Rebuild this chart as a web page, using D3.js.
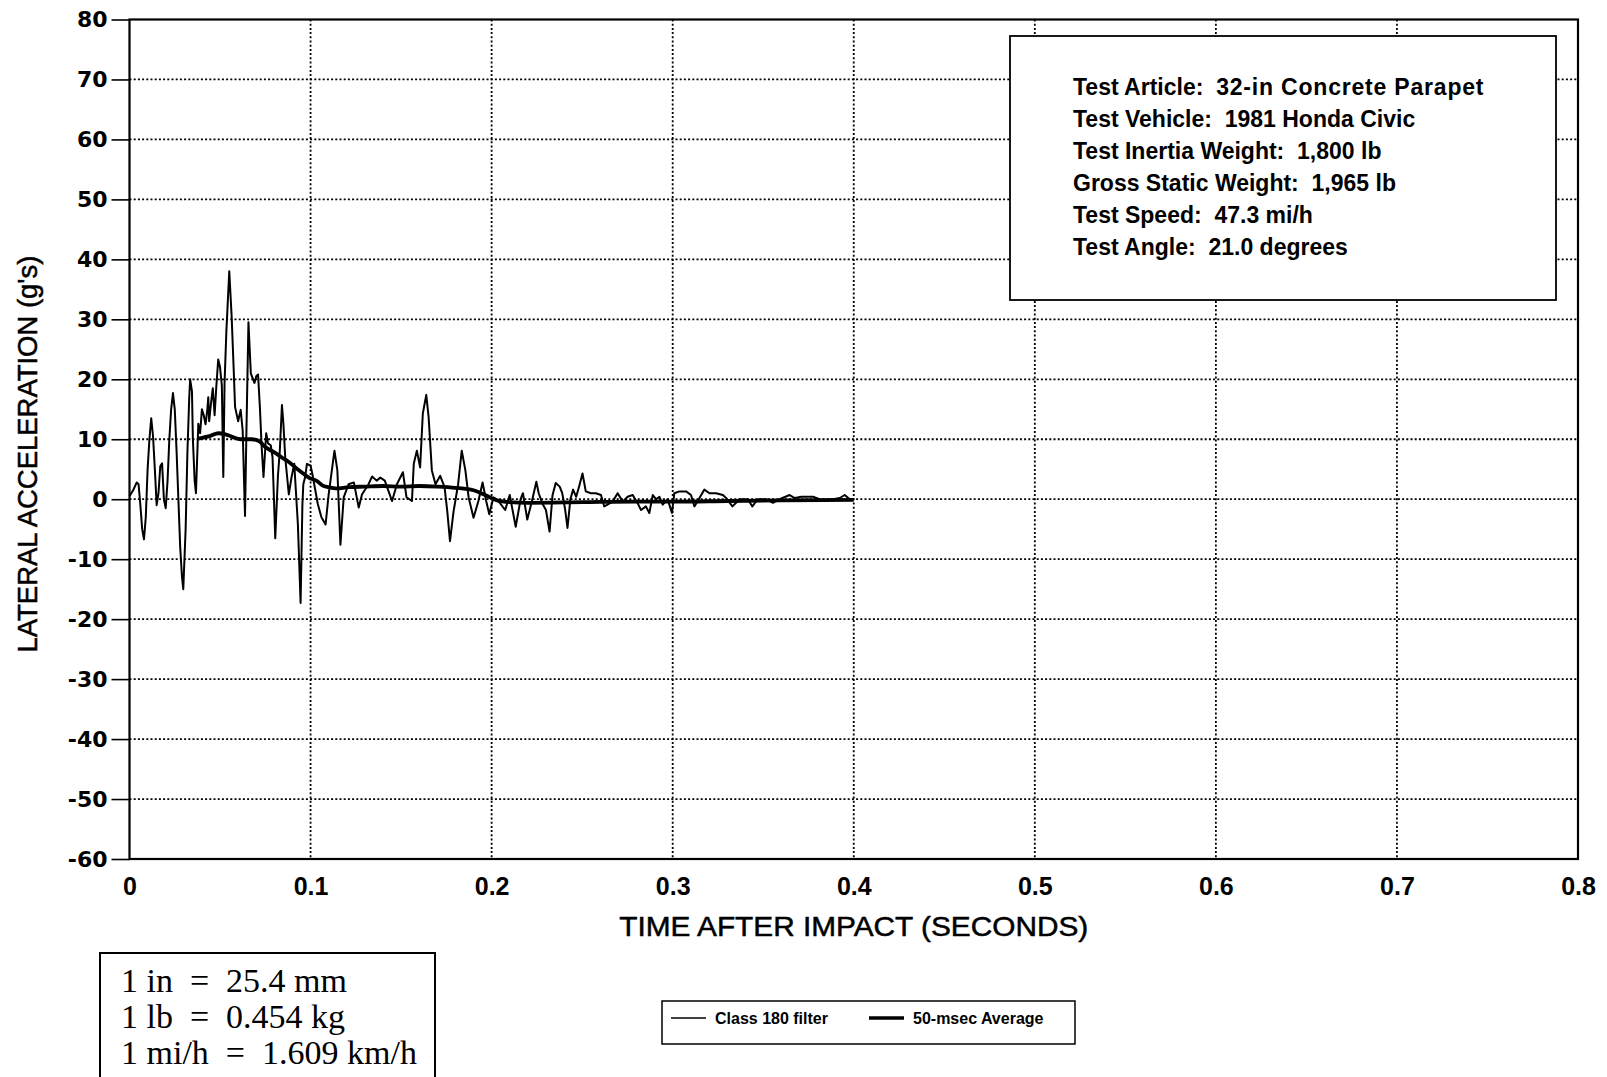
<!DOCTYPE html>
<html>
<head>
    <title>Lateral Acceleration</title>
    <script src="https://d3js.org/d3.v7.min.js"></script>
    <style>
        body { margin: 0; background: #fff; }
        svg { display: block; }
        .axis-label {
            font-family: "Liberation Sans", Arial, sans-serif;
            font-size: 28px;
            fill: #000;
            stroke: #000;
            stroke-width: 0.5px;
        }
        .info text {
            font-family: "Liberation Sans", Arial, sans-serif;
            font-weight: bold;
            font-size: 23px;
        }
    </style>
</head>
<body>
    <svg width="1607" height="1077"></svg>
    <script>
        // tick values
        const xTicks = [0, 0.1, 0.2, 0.3, 0.4, 0.5, 0.6, 0.7, 0.8];
        const yTicks = [-60, -50, -40, -30, -20, -10, 0, 10, 20, 30, 40, 50, 60, 70, 80];

        // Class 180 filter trace
        const timeRaw = [
            0.000, 0.002, 0.004, 0.005, 0.006, 0.007, 0.008, 0.009, 0.010, 0.011,
            0.012, 0.013, 0.014, 0.015, 0.016, 0.017, 0.018, 0.019, 0.020, 0.021,
            0.022, 0.023, 0.024, 0.025, 0.026, 0.027, 0.028, 0.029, 0.0297, 0.031,
            0.032, 0.033, 0.0335, 0.0345, 0.035, 0.036, 0.0367, 0.0375, 0.038, 0.039,
            0.040, 0.041, 0.042, 0.043, 0.0435, 0.044, 0.045, 0.046, 0.047, 0.048,
            0.049, 0.050, 0.051, 0.0518, 0.0525, 0.0535, 0.0551, 0.0564, 0.0575, 0.0583,
            0.060, 0.0614, 0.0625, 0.0638, 0.0645, 0.0657, 0.067, 0.069, 0.070, 0.071,
            0.072, 0.073, 0.074, 0.0755, 0.0765, 0.078, 0.079, 0.0805, 0.082, 0.083,
            0.0842, 0.085, 0.086, 0.088, 0.0895, 0.091, 0.093, 0.0945, 0.0955, 0.096,
            0.097, 0.098, 0.100, 0.101, 0.104, 0.106, 0.1083, 0.110, 0.1132, 0.1148,
            0.1165, 0.1183, 0.121, 0.1239, 0.1266, 0.1284, 0.132, 0.134, 0.1365, 0.1385,
            0.141, 0.143, 0.145, 0.1477, 0.151, 0.153, 0.156, 0.157, 0.1587, 0.1605,
            0.162, 0.1639, 0.1652, 0.167, 0.169, 0.1716, 0.174, 0.1755, 0.177, 0.179,
            0.1815, 0.1835, 0.1855, 0.1873, 0.190, 0.1927, 0.195, 0.197, 0.1987, 0.201,
            0.2035, 0.2075, 0.210, 0.2133, 0.216, 0.2173, 0.2197, 0.2225, 0.2247, 0.226,
            0.228, 0.230, 0.232, 0.2336, 0.2354, 0.2376, 0.239, 0.2405, 0.2419, 0.2435,
            0.245, 0.2467, 0.2483, 0.2502, 0.252, 0.2548, 0.2576, 0.2604, 0.2622, 0.264,
            0.2668, 0.2696, 0.2724, 0.2751, 0.2779, 0.2807, 0.2825, 0.2852, 0.2871, 0.289,
            0.2908, 0.2927, 0.2945, 0.2972, 0.2996, 0.3009, 0.3037, 0.3074, 0.3101, 0.312,
            0.3148, 0.3175, 0.3203, 0.324, 0.3277, 0.3295, 0.333, 0.337, 0.3415, 0.344,
            0.347, 0.3517, 0.3554, 0.359, 0.3646, 0.3674, 0.3711, 0.3738, 0.3775, 0.3812,
            0.3849, 0.3886, 0.3923, 0.395, 0.3978, 0.400
        ];
        const accelRaw = [
            0.5, 1.5, 2.8, 2.5, -1, -5, -6.7, -3, 5, 10,
            13.5, 10.5, 5, -1, 1, 5.5, 6, 0, -1.5, 3,
            10, 15, 17.7, 15, 8, 0, -8, -13, -15, -5,
            8, 17, 20, 18, 10, 3, 1, 8, 12.6, 11,
            15, 14, 12.5, 15, 17, 13, 16, 18.5, 14, 19,
            23.3, 22, 19, 3.7, 19.4, 28, 38, 30.6, 22, 15.4,
            13, 14.9, 11.5, -2.8, 10, 29.5, 21, 19.4, 20.5, 20.8,
            15.4, 8.7, 3.7, 11, 9.3, 9, 7, -6.5, 4, 8,
            15.7, 12.6, 7, 0.8, 3.7, 5.9, -4.2, -17.3, -0.8, 2.5,
            3.7, 5.9, 5.6, 4.2, -0.8, -3, -4.2, 0.8, 8.1, 4.8,
            -7.6, 0.3, 2.5, 2.8, -1.4, 0.8, 2.5, 3.8, 3.1, 3.6,
            3.1, 1.4, -0.3, 2.5, 4.5, 0.3, -0.3, 5.9, 8.1, 5.3,
            14.3, 17.4, 13.7, 4.8, 2.5, 3.9, 2, -2, -7, -2,
            2.5, 8.1, 4.8, 0.3, -3.1, -0.3, 2.8, -0.3, -2.5, 0.3,
            -0.2, -1.8, 0.7, -4.6, 0, 1, -3.4, 0, 2.9, 1,
            -0.7, -1.8, -5.4, 0.6, 2.7, 2.1, 1, -1.5, -4.8, 0,
            1.6, 0.4, 2.1, 4.3, 1.3, 1, 1, 0.7, -1.2, -0.9,
            -0.4, 1, -0.4, 0.4, 0.7, -0.7, -1.8, -1.2, -2.3, 0.7,
            0, 0.4, -0.9, 0, -2.3, 1, 1.3, 1.3, 0.7, -1.2,
            0.2, 1.6, 1, 1, 0.7, 0.2, -1.2, 0, 0, -1.2,
            0, 0, -0.6, 0, 0.7, 0.2, 0.4, 0.4, 0.4, 0,
            -0.1, 0, 0.2, 0.7, 0, 0
        ];

        // 50-msec average trace
        const timeAvg = [
            0.038, 0.045, 0.049, 0.053, 0.056, 0.0615, 0.0675, 0.072, 0.075, 0.080,
            0.084, 0.088, 0.0916, 0.095, 0.099, 0.1037, 0.1065, 0.110, 0.1139, 0.121,
            0.130, 0.140, 0.150, 0.160, 0.170, 0.180, 0.190, 0.197, 0.203, 0.210,
            0.220, 0.250, 0.280, 0.300, 0.330, 0.360, 0.400
        ];
        const accelAvg = [
            10.1, 10.6, 11, 10.8, 10.5, 10, 10, 9.6, 8.7, 7.8,
            7, 6.2, 5.3, 4.5, 3.6, 3, 2.3, 2, 1.8, 2,
            2.1, 2.2, 2.1, 2.2, 2.1, 1.9, 1.5, 0.6, -0.2, -0.5,
            -0.6, -0.5, -0.4, -0.4, -0.3, -0.2, -0.1
        ];

        const infoLines = [
            ["Test Article:", "32-in Concrete Parapet"],
            ["Test Vehicle:", "1981 Honda Civic"],
            ["Test Inertia Weight:", "1,800 lb"],
            ["Gross Static Weight:", "1,965 lb"],
            ["Test Speed:", "47.3 mi/h"],
            ["Test Angle:", "21.0 degrees"]
        ];
        const unitLines = [["1 in", "25.4 mm"], ["1 lb", "0.454 kg"], ["1 mi/h", "1.609 km/h"]];
        const legendLabels = ["Class 180 filter", "50-msec Average"];

        const margin = {top: 19.5, right: 29, bottom: 218, left: 129.5},
              width = 1607 - margin.left - margin.right,
              height = 1077 - margin.top - margin.bottom;

        const root = d3.select("svg");
        const svg = root.append("g")
            .attr("transform", "translate(" + margin.left + "," + margin.top + ")");

        const x = d3.scaleLinear().domain([0, 0.8]).range([0, width]);
        const y = d3.scaleLinear().domain([-60, 80]).range([height, 0]);

        // dotted grid
        svg.append("g").selectAll("line")
            .data(xTicks.slice(1, -1))
            .enter().append("line")
            .attr("x1", d => x(d)).attr("x2", d => x(d))
            .attr("y1", 0).attr("y2", height)
            .attr("stroke", "#000").attr("stroke-width", 1.8)
            .attr("stroke-dasharray", "2,2.2");
        svg.append("g").selectAll("line")
            .data(yTicks.slice(1, -1))
            .enter().append("line")
            .attr("y1", d => y(d)).attr("y2", d => y(d))
            .attr("x1", 0).attr("x2", width)
            .attr("stroke", "#000").attr("stroke-width", 1.8)
            .attr("stroke-dasharray", "2,2.2");

        // axes
        const yAxis = svg.append("g")
            .call(d3.axisLeft(y).tickValues(yTicks).tickSize(18).tickPadding(4)
                .tickFormat(d => String(d)));
        yAxis.select(".domain").remove();
        yAxis.selectAll(".tick line").attr("stroke-width", 1.6);
        yAxis.selectAll(".tick text")
            .style("font-family", "DejaVu Sans, sans-serif")
            .style("font-weight", "bold")
            .style("font-size", "22px");

        const xAxis = svg.append("g")
            .attr("transform", "translate(0," + height + ")")
            .call(d3.axisBottom(x).tickValues(xTicks).tickSize(0).tickPadding(18)
                .tickFormat(d => String(d)));
        xAxis.select(".domain").remove();
        xAxis.selectAll(".tick text")
            .style("font-family", "Liberation Sans, Arial, sans-serif")
            .style("font-weight", "bold")
            .style("font-size", "25px");

        // frame
        svg.append("rect")
            .attr("width", width).attr("height", height)
            .attr("fill", "none").attr("stroke", "#000").attr("stroke-width", 2.2);

        // traces
        const line = d3.line().x(d => x(d[0])).y(d => y(d[1]));
        svg.append("path")
            .datum(d3.zip(timeRaw, accelRaw))
            .attr("fill", "none").attr("stroke", "#000")
            .attr("stroke-width", 2).attr("stroke-linejoin", "round")
            .attr("d", line);
        svg.append("path")
            .datum(d3.zip(timeAvg, accelAvg))
            .attr("fill", "none").attr("stroke", "#000")
            .attr("stroke-width", 3.8).attr("stroke-linejoin", "round")
            .attr("d", line.curve(d3.curveMonotoneX));

        // axis titles
        root.append("text")
            .attr("class", "axis-label")
            .attr("x", margin.left + width / 2)
            .attr("y", 936)
            .attr("text-anchor", "middle")
            .attr("textLength", 469)
            .attr("lengthAdjust", "spacingAndGlyphs")
            .text("TIME AFTER IMPACT (SECONDS)");

        root.append("text")
            .attr("class", "axis-label")
            .attr("transform", "translate(37,454) rotate(-90)")
            .attr("text-anchor", "middle")
            .attr("textLength", 397)
            .attr("lengthAdjust", "spacingAndGlyphs")
            .text("LATERAL ACCELERATION (g's)");

        // test info box
        const info = root.append("g").attr("class", "info");
        info.append("rect")
            .attr("x", 1010).attr("y", 36).attr("width", 546).attr("height", 264)
            .attr("fill", "#fff").attr("stroke", "#000").attr("stroke-width", 1.8);
        const infoText = info.selectAll("text")
            .data(infoLines)
            .enter().append("text")
            .attr("x", 1073)
            .attr("y", (d, i) => 95 + i * 32);
        infoText.append("tspan").text(d => d[0] + "\u00a0\u00a0");
        infoText.append("tspan")
            .style("letter-spacing", (d, i) => i === 0 ? "0.8px" : null)
            .text(d => d[1]);

        // unit conversion box
        root.append("rect")
            .attr("x", 100).attr("y", 953).attr("width", 335).attr("height", 140)
            .attr("fill", "#fff").attr("stroke", "#000").attr("stroke-width", 2);
        root.selectAll(".unit")
            .data(unitLines)
            .enter().append("text")
            .attr("class", "unit")
            .attr("x", 121)
            .attr("y", (d, i) => 992 + i * 36)
            .style("font-family", "Liberation Serif, Times New Roman, serif")
            .style("font-size", "34px")
            .text(d => d[0] + "\u2002=\u2002" + d[1]);

        // legend
        const legend = root.append("g");
        legend.append("rect")
            .attr("x", 662).attr("y", 1001).attr("width", 413).attr("height", 43)
            .attr("fill", "#fff").attr("stroke", "#000").attr("stroke-width", 1.5);
        const legendX = [671, 869];
        legend.selectAll("line")
            .data(legendLabels)
            .enter().append("line")
            .attr("x1", (d, i) => legendX[i]).attr("x2", (d, i) => legendX[i] + 35)
            .attr("y1", 1018).attr("y2", 1018)
            .attr("stroke", "#000").attr("stroke-width", (d, i) => i ? 3.6 : 1.4);
        legend.selectAll("text")
            .data(legendLabels)
            .enter().append("text")
            .attr("x", (d, i) => legendX[i] + 44)
            .attr("y", 1018).attr("dy", "0.35em")
            .style("font-family", "Liberation Sans, Arial, sans-serif")
            .style("font-weight", "bold")
            .style("font-size", "16px")
            .text(d => d);
    </script>
</body>
</html>
